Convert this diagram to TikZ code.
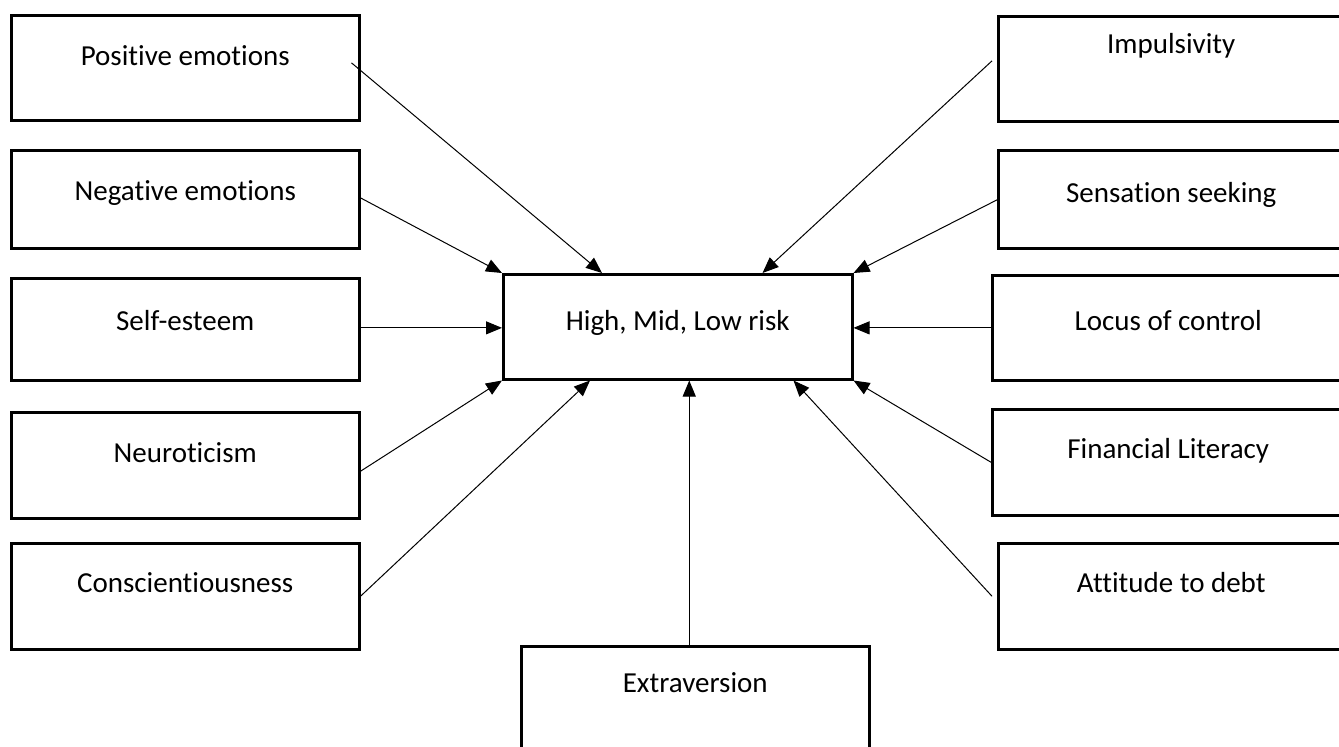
\documentclass[tikz,border=0pt]{standalone}
\usepackage{fontspec}
\setmainfont{Carlito}[Ligatures=CommonOff]
\usetikzlibrary{arrows.meta}

\begin{document}
\begin{tikzpicture}[x=1pt, y=-1pt,
          every node/.style={font=\fontsize{29}{34}\selectfont},
          factor/.style={draw, line width=2.5pt, inner sep=0pt, anchor=north west,
            minimum width=348pt, text height=50pt, text depth=55pt},
          link/.style={line width=1pt, -{Triangle[length=16pt, width=13pt]}},
        ]
          \clip (0,0) rectangle (1339,747);
          % left column
          \node[factor] (posem)   at (10,14)  {Positive emotions};
          \node[factor, text depth=48pt] (negem) at (10,149) {Negative emotions};
          \node[factor, text height=52pt, text depth=50pt] (selfest) at (10,277) {Self-esteem};
          \node[factor, text depth=56pt] (neuro) at (10,411) {Neuroticism};
          \node[factor, text height=49pt, text depth=57pt] (consc) at (10,542) {Conscientiousness};
          % right column
          \node[factor, minimum width=346pt, text height=37pt, text depth=68pt] (impuls) at (997,15) {Impulsivity};
          \node[factor, minimum width=346pt, text height=52pt, text depth=46pt] (sens) at (997,149) {Sensation seeking};
          \node[factor, minimum width=352pt, text height=55pt, text depth=50pt] (locus) at (991,274) {Locus of control};
          \node[factor, minimum width=352pt, text height=49pt, text depth=57pt] (fin) at (991,408) {Financial Literacy};
          \node[factor, minimum width=346pt, text height=49pt, text depth=57pt] (att) at (997,542) {Attitude to debt};
          % outcome and bottom box
          \node[factor, minimum width=349pt, text height=56pt, text depth=49pt] (risk) at (502,273) {High, Mid, Low risk};
          \node[factor, text height=46pt, text depth=120pt] (extra) at (520,645) {Extraversion};

          \draw[link] ([xshift=-9pt]posem.mid east) -- ([xshift=100pt]risk.north west);
          \draw[link] (negem.mid east) -- (risk.north west);
          \draw[link] (selfest.mid east) -- (risk.mid west);
          \draw[link] ([yshift=-6pt]neuro.east) -- (risk.south west);
          \draw[link] (consc.east) -- ([xshift=88pt]risk.south west);
          \draw[link] ([xshift=-6pt]extra.north) -- ([xshift=-6pt]extra.north |- risk.south);
          \draw[link] ([xshift=-5pt]att.west) -- ([xshift=-60pt]risk.south east);
          \draw[link] (fin.west) -- (risk.south east);
          \draw[link] (locus.mid west) -- (risk.mid east);
          \draw[link] (sens.mid west) -- (risk.north east);
          \draw[link] ([shift={(-5pt,-10pt)}]impuls.mid west) -- ([xshift=-91pt]risk.north east);
        \end{tikzpicture}
\end{document}
